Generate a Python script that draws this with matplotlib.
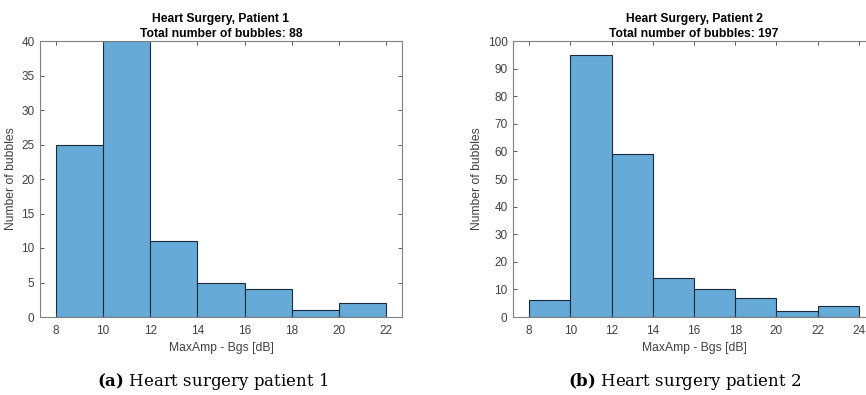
import matplotlib
matplotlib.use("Agg")
import matplotlib.pyplot as plt
import numpy as np

# Data
edges1 = [8, 10, 12, 14, 16, 18, 20, 22]
counts1 = [25, 40, 11, 5, 4, 1, 2]
edges2 = [8, 10, 12, 14, 16, 18, 20, 22, 24]
counts2 = [6, 95, 59, 14, 10, 7, 2, 4]
titles = ["Heart Surgery, Patient 1\nTotal number of bubbles: 88",
          "Heart Surgery, Patient 2\nTotal number of bubbles: 197"]
captions = [("(a)", "Heart surgery patient 1"), ("(b)", "Heart surgery patient 2")]
xticks1 = [8, 10, 12, 14, 16, 18, 20, 22]
xticks2 = [8, 10, 12, 14, 16, 18, 20, 22, 24]
yticks1 = list(range(0, 41, 5))
yticks2 = list(range(0, 101, 10))

plt.rcParams['font.family'] = ['Liberation Sans', 'DejaVu Sans']
plt.rcParams['mathtext.fontset'] = 'custom'
plt.rcParams['mathtext.rm'] = 'DejaVu Serif'
plt.rcParams['mathtext.bf'] = 'DejaVu Serif:bold'

W, H = 866, 395
fig = plt.figure(figsize=(W / 100, H / 100), dpi=100)

face = '#66AAD7'
axcol = '#404040'

def make_ax(left_px, right_px, edges, counts, xlim, ylim, xt, yt, title):
    top_px, bot_px = 41, 317
    ax = fig.add_axes([left_px / W, (H - bot_px) / H,
                       (right_px - left_px) / W, (bot_px - top_px) / H])
    e = np.array(edges, dtype=float)
    ax.bar(e[:-1], counts, width=np.diff(e), align='edge', color=face,
           edgecolor='#1a2a3a', linewidth=0.8)
    ax.set_xlim(*xlim)
    ax.set_ylim(*ylim)
    ax.set_xticks(xt)
    ax.set_yticks(yt)
    ax.tick_params(axis='both', direction='in', length=3, width=0.6, top=True, right=True,
                   labelsize=8.5, colors=axcol)
    ax.tick_params(axis='x', pad=6)
    ax.tick_params(axis='y', pad=4)
    for s in ax.spines.values():
        s.set_color('#808080')
        s.set_linewidth(0.8)
    ax.set_title(title, fontsize=8.7, fontweight='bold', color='black',
                 pad=3, linespacing=1.35)
    ax.set_xlabel("MaxAmp - Bgs [dB]", fontsize=8.7, color=axcol, labelpad=3)
    ax.set_ylabel("Number of bubbles", fontsize=8.7, color=axcol, labelpad=3)
    return ax

ax1 = make_ax(40, 402, edges1, counts1, (7.32, 22.68), (0, 40), xticks1, yticks1, titles[0])
ax2 = make_ax(513, 875, edges2, counts2, (7.22, 24.78), (0, 100), xticks2, yticks2, titles[1])

for (lab, txt), cx in zip(captions, [213, 685]):
    fig.text(cx / W, 1 - 381 / H, r"$\mathbf{" + lab + "}$ " + txt,
             ha='center', va='center', fontsize=12,
             family='DejaVu Serif', color='black')

fig.savefig("out.png", dpi=100)
